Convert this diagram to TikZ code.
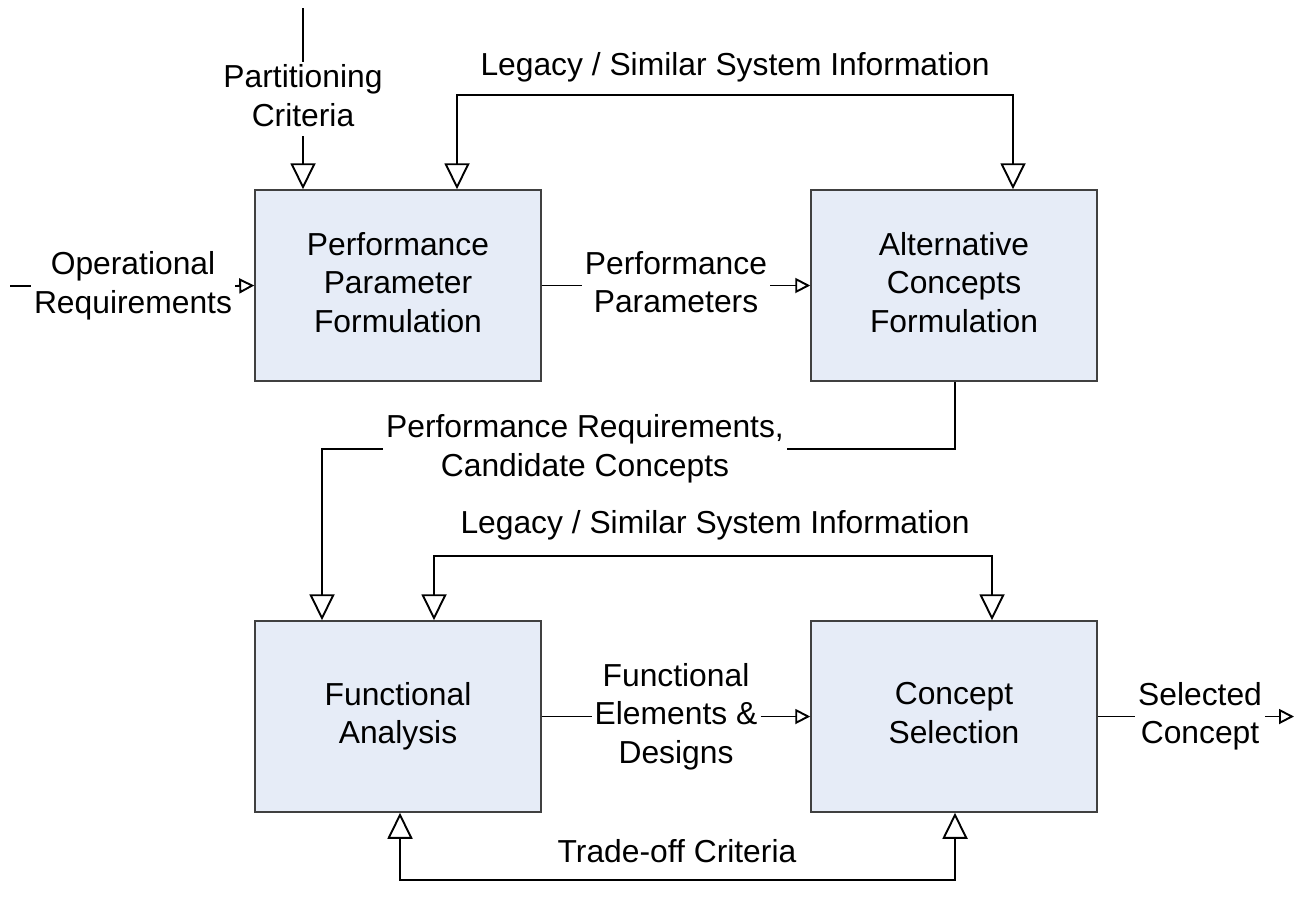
\documentclass[tikz,border=0pt]{standalone}
\usepackage{fontspec}
\setmainfont{Liberation Sans}
\usetikzlibrary{arrows.meta}
\definecolor{boxfill}{RGB}{230,236,247}
\definecolor{boxline}{RGB}{64,64,64}
\newcommand\mystrutx{\rule[-7pt]{0pt}{38.5pt}}
\begin{document}
\begin{tikzpicture}[x=1pt,y=-1pt,
  txt/.style={font=\fontsize{31.8}{38.5}\selectfont, align=center, inner sep=3pt,
    execute at begin node=\mystrutx, execute at end node=\mystrutx},
  procbox/.style={draw=boxline, line width=1.5pt, fill=boxfill, minimum width=286pt, minimum height=191pt, txt, inner sep=0pt},
  conn/.style={line width=1.9pt, black},
  bigtip/.style={-{Triangle[open,length=26pt,width=25pt]}},
  bothtip/.style={{Triangle[open,length=26pt,width=25pt]}-{Triangle[open,length=26pt,width=25pt]}},
  smalltip/.style={-{Triangle[open,length=15pt,width=15pt]}},
]
\useasboundingbox (0,0) rectangle (1295,908);

% process boxes
\node[procbox] (box1) at (398,285.5) {Performance\\Parameter\\Formulation};
\node[procbox] (box2) at (954,285.5) {Alternative\\Concepts\\Formulation};
\node[procbox] (box3) at (398,716.5) {Functional\\Analysis};
\node[procbox] (box4) at (954,716.5) {Concept\\Selection};

% Partitioning criteria
\node[txt] (part) at (303,99) {Partitioning\\Criteria};
\coordinate (parttop) at (303,8);
\draw[conn] (parttop) -- (part.north);
\draw[conn,bigtip] (part.south) -- (part.south |- box1.north);

% Legacy (top)
\node[txt] (leg1) at (735,63) {Legacy / Similar System Information};
\coordinate (l1a) at (457,95);
\coordinate (l1b) at (1013,95);
\draw[conn,bothtip] (l1a |- box1.north) -- (l1a) -- (l1b) -- (l1b |- box2.north);

% Operational requirements
\node[txt] (opreq) at (133,286) {Operational\\Requirements};
\coordinate (opstart) at (10,286);
\draw[conn] (opstart) -- (opreq.west);
\draw[conn,smalltip] (opreq.east) -- (box1.west);

% Performance parameters
\node[txt] (pparam) at (676,285.5) {Performance\\Parameters};
\draw[conn] (box1.east) -- (pparam.west);
\draw[conn,smalltip] (pparam.east) -- (box2.west);

% Performance requirements, candidate concepts
\node[txt] (preq) at (585,449) {Performance Requirements,\\Candidate Concepts};
\coordinate (pr1) at (955,449);
\coordinate (pr2) at (322,449);
\draw[conn] (pr1 |- box2.south) -- (pr1) -- (preq.east);
\draw[conn,bigtip] (preq.west) -- (pr2) -- (pr2 |- box3.north);

% Legacy (lower)
\node[txt] (leg2) at (715,521) {Legacy / Similar System Information};
\coordinate (l2a) at (434,556);
\coordinate (l2b) at (992,556);
\draw[conn,bothtip] (l2a |- box3.north) -- (l2a) -- (l2b) -- (l2b |- box4.north);

% Functional elements & designs
\node[txt] (fed) at (676,716.5) {Functional\\Elements \&\\Designs};
\draw[conn] (box3.east) -- (fed.west);
\draw[conn,smalltip] (fed.east) -- (box4.west);

% Selected concept
\node[txt] (sel) at (1200,716.5) {Selected\\Concept};
\coordinate (selend) at (1294,716.5);
\draw[conn] (box4.east) -- (sel.west);
\draw[conn,smalltip] (sel.east) -- (selend);

% Trade-off criteria
\node[txt] (trade) at (677,850) {Trade-off Criteria};
\coordinate (t1) at (400,880);
\coordinate (t2) at (955,880);
\draw[conn,bothtip] (t1 |- box3.south) -- (t1) -- (t2) -- (t2 |- box4.south);
\end{tikzpicture}
\end{document}
